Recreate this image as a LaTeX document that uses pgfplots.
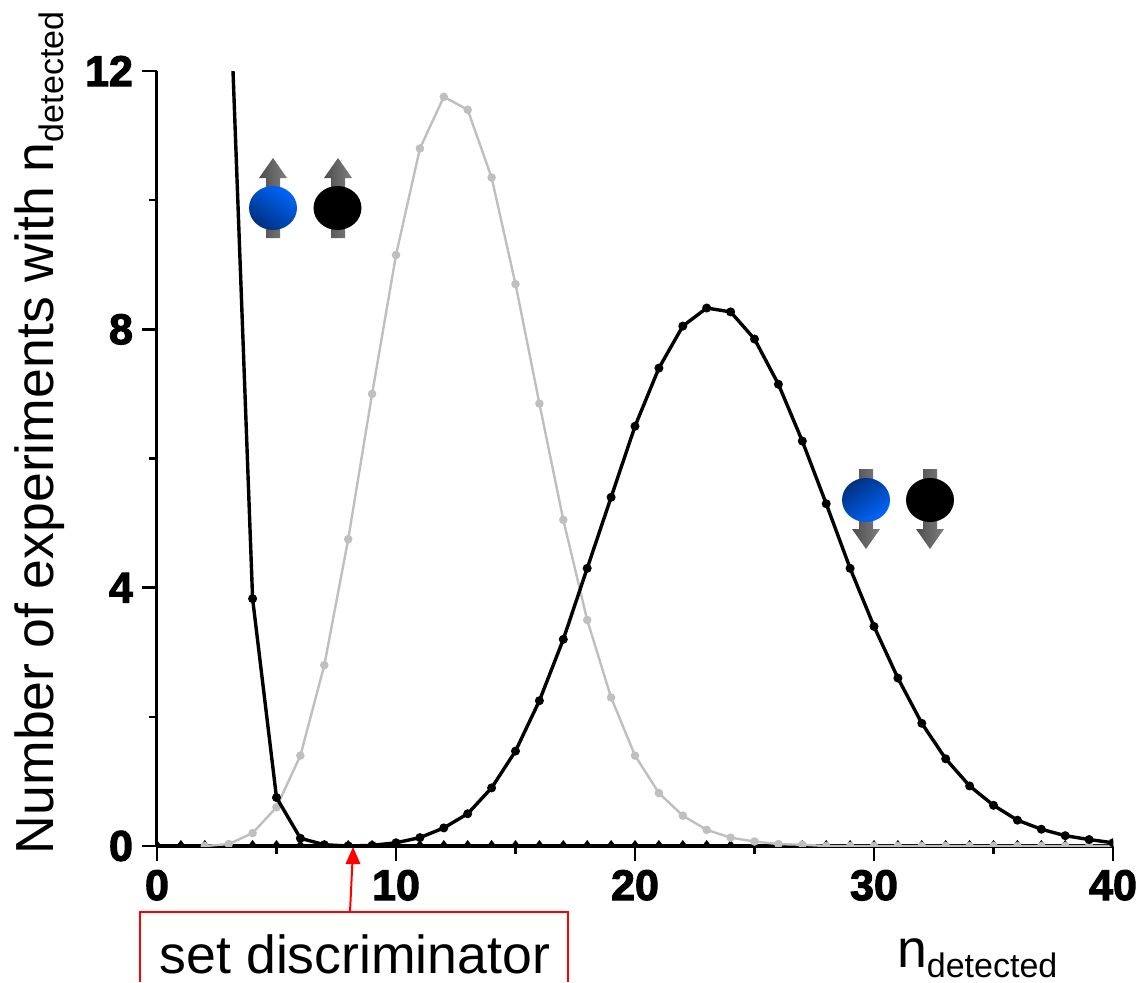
\documentclass[border=0pt]{standalone}
\usepackage{fontspec}
\usepackage{pgfplots}
\pgfplotsset{compat=1.18}
\setmainfont{Liberation Sans}
\newfontfamily\heavy[FakeBold=2.5]{Liberation Sans Bold}

\definecolor{spin}{HTML}{0066FA}
\definecolor{spindark}{HTML}{003080}

% spin sphere with its arrow, in picture pixels
\newcommand{\uparrowshape}[1]{%
  \shade[left color=black!70, right color=black!50]
    (#1-7,178) -- (#1-14,178) -- (#1,158) -- (#1+14,178) -- (#1+7,178) -- (#1+7,238) -- (#1-7,238) -- cycle;}
\newcommand{\downarrowshape}[1]{%
  \shade[left color=black!70, right color=black!50]
    (#1-7,469) -- (#1+7,469) -- (#1+7,529) -- (#1+14,529) -- (#1,549) -- (#1-14,529) -- (#1-7,529) -- cycle;}

\begin{document}
\begin{tikzpicture}
% page size fixed first: 1139x982 px at 0.5pt per px, origin at the axis corner
\path[use as bounding box] (-78.5pt,423pt) rectangle (491pt,-68pt);
\begin{axis}[
  at={(0,0)}, anchor=origin,
  scale only axis,
  width=478pt, height=387.5pt,
  xmin=0, xmax=40, ymin=0, ymax=12,
  axis lines=left,
  axis line style={-, line width=1.5pt},
  clip marker paths=true,
  xtick={0,10,20,30,40}, ytick={0,4,8,12},
  minor x tick num=1, minor y tick num=1,
  tick align=outside,
  tick style={black, line width=1.3pt},
  major tick length=7.5pt, minor tick length=4pt,
  /pgf/number format/assume math mode=true,
  ticklabel style={font=\heavy\fontsize{21.5}{22}\selectfont},
  xticklabel style={yshift=-1pt},
  yticklabel style={xshift=-1pt},
  ylabel={Number of experiments with n\raisebox{-5pt}{\fontsize{17}{17}\selectfont detected}},
  ylabel style={at={(axis description cs:-0.123,0.533)}, anchor=center, font=\fontsize{26.8}{30}\selectfont},
  xlabel={n\raisebox{-5pt}{\fontsize{17}{17}\selectfont detected}},
  xlabel style={at={(axis description cs:0.858,-0.157)}, anchor=base, font=\fontsize{26.8}{30}\selectfont},
]
% zero line
\addplot[black, line width=1.6pt, mark=diamond*, mark size=1.7pt] coordinates {
(0,0)(1,0)(2,0)(3,0)(4,0)(5,0)(6,0)(7,0)(8,0)(9,0)(10,0)(11,0)(12,0)(13,0)(14,0)(15,0)(16,0)(17,0)(18,0)(19,0)(20,0)
(21,0)(22,0)(23,0)(24,0)(25,0)(26,0)(27,0)(28,0)(29,0)(30,0)(31,0)(32,0)(33,0)(34,0)(35,0)(36,0)(37,0)(38,0)(39,0)(40,0)
};
% grey peak
\addplot[black!25, line width=1.2pt, mark=*, mark size=1.5pt] coordinates {
(2,0)(3,0.03)(4,0.2)(5,0.6)(6,1.4)(7,2.8)(8,4.75)(9,7.0)(10,9.15)(11,10.8)(12,11.6)(13,11.4)(14,10.35)(15,8.7)
(16,6.85)(17,5.05)(18,3.5)(19,2.3)(20,1.4)(21,0.82)(22,0.47)(23,0.25)(24,0.13)(25,0.07)(26,0.03)(27,0.02)
(28,0)(29,0)(30,0)(31,0)(32,0)(33,0)(34,0)(35,0)(36,0)(37,0)(38,0)(39,0)(40,0)
};
% black peak
\addplot[black, line width=1.7pt, mark=*, mark size=1.35pt] coordinates {
(8,0)(9,0.01)(10,0.05)(11,0.13)(12,0.28)(13,0.5)(14,0.9)(15,1.47)(16,2.25)(17,3.2)(18,4.3)(19,5.4)(20,6.5)
(21,7.4)(22,8.05)(23,8.33)(24,8.27)(25,7.85)(26,7.15)(27,6.27)(28,5.3)(29,4.3)(30,3.4)(31,2.6)(32,1.9)
(33,1.35)(34,0.93)(35,0.63)(36,0.4)(37,0.26)(38,0.16)(39,0.1)(40,0.05)
};
% steep curve on the left
\addplot[black, line width=1.7pt, mark=*, mark size=1.35pt] coordinates {
(3,13.8)(4,3.83)(5,0.75)(6,0.12)(7,0.02)(8,0)
};
\end{axis}

% overlay drawn in reference pixel coordinates
\begin{scope}[shift={(-78.5pt,423pt)}, x=0.5pt, y=-0.5pt]
  \uparrowshape{273}
  \uparrowshape{338}
  \shade[shading=axis, top color=spin, middle color=spin!85!spindark, bottom color=spindark, shading angle=-35]
    (273,208) ellipse [x radius=24, y radius=22];
  \fill[black] (337.5,208) ellipse [x radius=24, y radius=22];

  \downarrowshape{866}
  \downarrowshape{930}
  \shade[shading=axis, top color=spindark, middle color=spin!85!spindark, bottom color=spin, shading angle=35]
    (866,500) ellipse [x radius=24, y radius=22];
  \fill[black] (930,500) ellipse [x radius=24, y radius=22];

  % discriminator annotation, box runs off the bottom edge
  \draw[red, line width=1pt] (140,982) -- (140,912) -- (568,912) -- (568,982);
  \draw[red, line width=1pt] (350,912) -- (352.5,860);
  \fill[red] (353,847) -- (360.5,864) -- (345.5,864) -- cycle;
  \node[anchor=base, inner sep=0pt, font=\fontsize{26.8}{30}\selectfont] at (355,973) {set discriminator};
\end{scope}
\end{tikzpicture}
\end{document}
